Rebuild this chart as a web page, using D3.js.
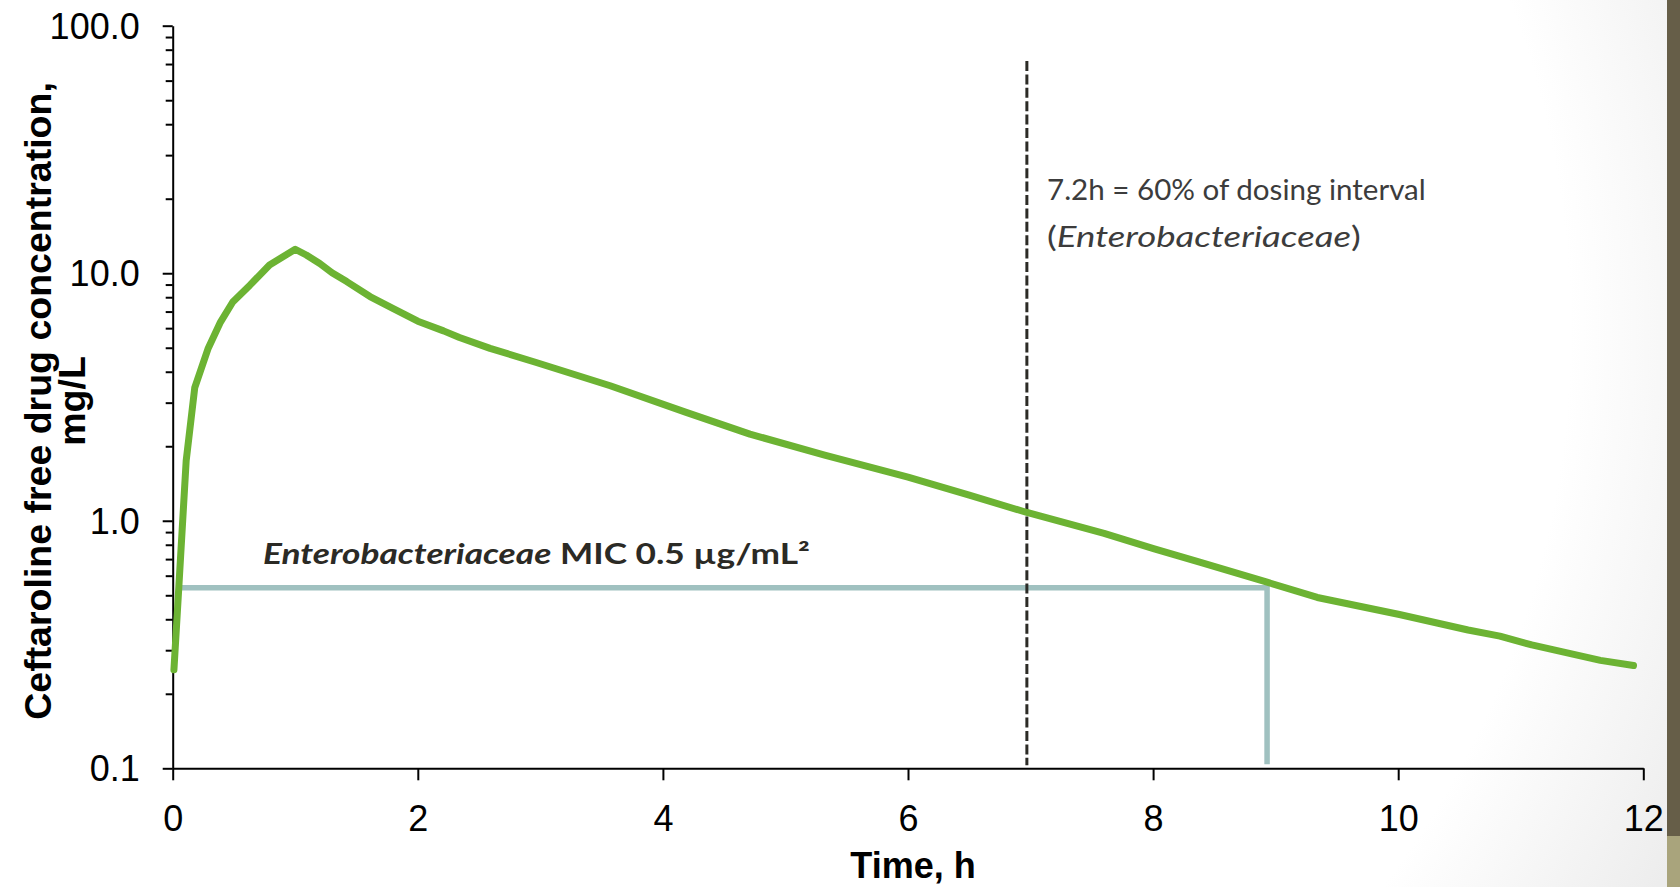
<!DOCTYPE html>
<html>
<head>
<meta charset="utf-8">
<script src="https://cdn.jsdelivr.net/npm/d3@7"></script>
<style>
  html, body { margin: 0; padding: 0; background: #fff; overflow: hidden; }
  svg { display: block; }
</style>
</head>
<body>
<svg id="chart" width="1680" height="887"></svg>
<script>
// concentration-time profile (h, mg/L)
var times = [0.01, 0.05, 0.11, 0.18, 0.29, 0.39, 0.49, 0.63, 0.79, 1.0, 1.09, 1.2, 1.3,
    1.42, 1.61, 1.8, 2.0, 2.21, 2.34, 2.59, 2.96, 3.57, 4.19, 4.71, 5.32, 6.0, 6.5,
    6.97, 7.6, 8.01, 8.38, 8.93, 9.34, 10.01, 10.57, 10.83, 11.09, 11.65, 11.92];
var conc = [0.25, 0.54, 1.75, 3.45, 4.98, 6.35, 7.65, 8.95, 10.8, 12.5, 11.85, 10.95, 10.05,
    9.25, 8.05, 7.2, 6.4, 5.85, 5.5, 4.97, 4.37, 3.51, 2.74, 2.24, 1.84, 1.5, 1.27,
    1.08, 0.89, 0.77, 0.68, 0.565, 0.49, 0.418, 0.362, 0.342, 0.315, 0.273, 0.26];

var xTicks = [0, 2, 4, 6, 8, 10, 12];
var yTicks = [0.1, 1, 10, 100];

// MIC step line and the 60% marker
var micLevel = 0.536;
var micStart = 0.06;
var micEnd = 8.93;
var markerTime = 6.97;

var micLabel = ["Enterobacteriaceae", " MIC 0.5 µg/mL²"];
var noteLines = ["7.2h = 60% of dosing interval", "Enterobacteriaceae"];
var yTitle = ["Ceftaroline free drug concentration,", "mg/L"];
var xTitle = "Time, h";

var svg = d3.select("#chart");

// background: white with a soft grey fade to the right
var defs = svg.append("defs");
var grad = defs.append("radialGradient").attr("id", "bg")
    .attr("gradientUnits", "userSpaceOnUse")
    .attr("cx", 650).attr("cy", 330).attr("r", 1150);
grad.append("stop").attr("offset", "0.8").attr("stop-color", "#ffffff");
grad.append("stop").attr("offset", "1").attr("stop-color", "#ededed");
svg.append("rect").attr("width", 1680).attr("height", 887).attr("fill", "url(#bg)");

// slide edge bar
svg.append("rect").attr("x", 1667).attr("y", 0).attr("width", 13).attr("height", 836)
    .attr("fill", "#665e48");
svg.append("rect").attr("x", 1667).attr("y", 836).attr("width", 13).attr("height", 51)
    .attr("fill", "#a9a47c");

var x = d3.scaleLinear().domain([0, 12]).range([172.7, 1643.3]);
var y = d3.scaleLog().domain([0.1, 100]).range([768.3, 25.7]);

// minor log ticks
var minor = [];
[0.1, 1, 10].forEach(function(d) {
    for (var k = 2; k <= 9; k++) minor.push(d * k);
});

var gyMinor = svg.append("g").attr("transform", "translate(" + x(0) + ",0)")
    .call(d3.axisLeft(y).tickValues(minor).tickSize(7).tickSizeOuter(0).tickFormat(""));
gyMinor.select(".domain").remove();

var gy = svg.append("g").attr("transform", "translate(" + x(0) + ",0)")
    .call(d3.axisLeft(y).tickValues(yTicks).tickSize(10).tickSizeOuter(0)
        .tickPadding(23).tickFormat(d3.format(".1f")));

var gx = svg.append("g").attr("transform", "translate(0," + y(0.1) + ")")
    .call(d3.axisBottom(x).tickValues(xTicks).tickSize(12).tickSizeOuter(0)
        .tickPadding(25).tickFormat(d3.format("d")));

svg.selectAll(".domain, .tick line").attr("stroke", "#000").attr("stroke-width", 2);
svg.selectAll(".tick text").attr("font-family", "Liberation Sans, Arial, sans-serif")
    .attr("font-size", 36).attr("fill", "#000");
gy.selectAll(".tick text").attr("dy", "0.35em");

// MIC step line
var micPts = [[micStart, micLevel], [micEnd, micLevel], [micEnd, 0.1]];
svg.append("path")
    .attr("d", d3.line().x(function(d) { return x(d[0]); })
        .y(function(d, i) { return i == 2 ? y(d[1]) - 4 : y(d[1]); })(micPts))
    .attr("fill", "none").attr("stroke", "#a0c1c0").attr("stroke-width", 5.5);

// dashed marker
svg.append("line")
    .attr("x1", x(markerTime)).attr("x2", x(markerTime))
    .attr("y1", 61).attr("y2", y(0.1) - 3)
    .attr("stroke", "#2c2b26").attr("stroke-width", 3)
    .attr("stroke-dasharray", "10,3.4");

// drug curve
var pts = times.map(function(t, i) { return [t, conc[i]]; });
svg.append("path")
    .attr("d", d3.line().x(function(d) { return x(d[0]); })
        .y(function(d) { return y(d[1]); })(pts))
    .attr("fill", "none").attr("stroke", "#6cb333").attr("stroke-width", 7)
    .attr("stroke-linejoin", "round").attr("stroke-linecap", "round");

// squeeze a text sideways so it spans the wanted width
function squeeze(sel, x0, y0, width) {
    var w = sel.node().getComputedTextLength();
    sel.attr("transform", "translate(" + x0 + "," + y0 + ") scale(" + (width / w) + ",1)");
}

var note1 = svg.append("text")
    .attr("font-family", "Lato, sans-serif").attr("font-size", 29).attr("fill", "#3c3c3c")
    .text(noteLines[0]);
squeeze(note1, 1047, 200, 379);
var note2 = svg.append("text")
    .attr("font-family", "Lato, sans-serif").attr("font-size", 29).attr("fill", "#3c3c3c");
note2.append("tspan").text("(");
note2.append("tspan").attr("font-style", "italic").text(noteLines[1]);
note2.append("tspan").text(")");
squeeze(note2, 1047, 246.5, 314);

var mic = svg.append("text")
    .attr("font-family", "Lato, sans-serif").attr("font-size", 28)
    .attr("font-weight", "bold").attr("fill", "#2b2a25");
mic.append("tspan").attr("font-style", "italic").text(micLabel[0]);
mic.append("tspan").text(micLabel[1]);
squeeze(mic, 263, 564, 547);

// axis titles
svg.append("text")
    .attr("transform", "translate(51,401) rotate(-90)")
    .attr("text-anchor", "middle")
    .attr("font-family", "Liberation Sans, Arial, sans-serif")
    .attr("font-weight", "bold").attr("font-size", 37.5).attr("fill", "#000")
    .text(yTitle[0]);
svg.append("text")
    .attr("transform", "translate(85,401) rotate(-90)")
    .attr("text-anchor", "middle")
    .attr("font-family", "Liberation Sans, Arial, sans-serif")
    .attr("font-weight", "bold").attr("font-size", 37.5).attr("fill", "#000")
    .text(yTitle[1]);

svg.append("text").attr("x", 913).attr("y", 878)
    .attr("text-anchor", "middle")
    .attr("font-family", "Liberation Sans, Arial, sans-serif")
    .attr("font-weight", "bold").attr("font-size", 36).attr("fill", "#000")
    .text(xTitle);
</script>
</body>
</html>
